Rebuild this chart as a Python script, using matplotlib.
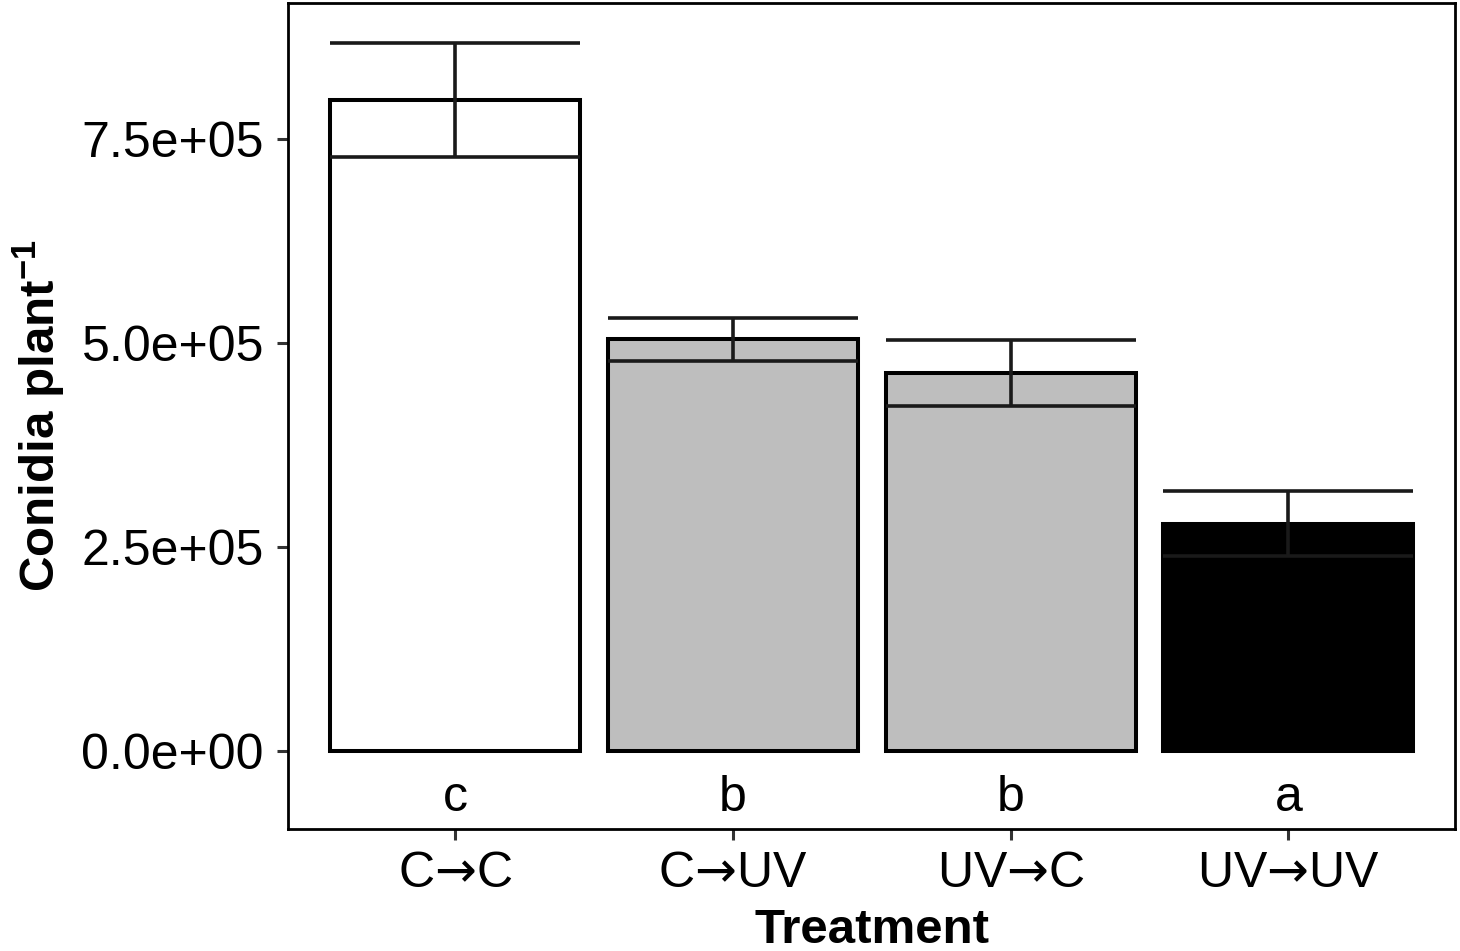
import matplotlib
matplotlib.use("Agg")
import matplotlib.pyplot as plt

plt.rcParams["font.family"] = ["Liberation Sans", "DejaVu Sans"]
plt.rcParams["mathtext.fontset"] = "custom"
plt.rcParams["mathtext.rm"] = "Liberation Sans"
plt.rcParams["mathtext.sf"] = "DejaVu Sans"
plt.rcParams["mathtext.default"] = "regular"

# arrow taken from DejaVu Sans, it is wider than the Liberation one
treatments = ["C$\\mathsf{\u2192}$C", "C$\\mathsf{\u2192}$UV",
              "UV$\\mathsf{\u2192}$C", "UV$\\mathsf{\u2192}$UV"]
conidia_mean = [798000, 505000, 464000, 279000]
conidia_se = [70000, 26500, 40500, 40000]
letters = ["c", "b", "b", "a"]
bar_colors = ["white", "#bebebe", "#bebebe", "black"]

y_ticks = [0, 250000, 500000, 750000]
y_tick_labels = ["0.0e+00", "2.5e+05", "5.0e+05", "7.5e+05"]

LETTER_Y = -73000
BAR_WIDTH = 0.9

fig = plt.figure(figsize=(14.6, 9.51), dpi=100)
ax = fig.add_axes([288.3 / 1460, 122 / 951, 1166.7 / 1460, 826 / 951])

x = list(range(1, len(treatments) + 1))
ax.bar(x, conidia_mean, width=BAR_WIDTH, color=bar_colors,
       edgecolor="black", linewidth=2.9, zorder=2)

lo = [m - s for m, s in zip(conidia_mean, conidia_se)]
hi = [m + s for m, s in zip(conidia_mean, conidia_se)]
left = [xi - BAR_WIDTH / 2 for xi in x]
right = [xi + BAR_WIDTH / 2 for xi in x]
err_kw = dict(color="#1a1a1a", linewidth=2.6, zorder=3)
ax.vlines(x, lo, hi, **err_kw)
ax.hlines(hi, left, right, **err_kw)
ax.hlines(lo, left, right, **err_kw)

for xi, lab in zip(x, letters):
    ax.text(xi, LETTER_Y, lab, ha="center", va="baseline", fontsize=36)

ax.set_xlim(0.4, 4.6)
ax.set_ylim(-95000, 917000)
ax.set_xticks(x)
ax.set_xticklabels(treatments)
ax.set_yticks(y_ticks)
ax.set_yticklabels(y_tick_labels)

ax.tick_params(axis="both", direction="out", length=8, width=2.2,
               color="#333333", labelsize=36, labelcolor="black")
ax.tick_params(axis="x", pad=8)
ax.tick_params(axis="y", pad=9.5)

for sp in ax.spines.values():
    sp.set_linewidth(2.0)
    sp.set_color("black")

ax.set_xlabel("Treatment", fontsize=35.5, fontweight="bold", labelpad=8)
ax.set_ylabel("Conidia plant$^{-1}$", fontsize=35.5, fontweight="bold",
              labelpad=10)

fig.savefig("out.png", dpi=100)
